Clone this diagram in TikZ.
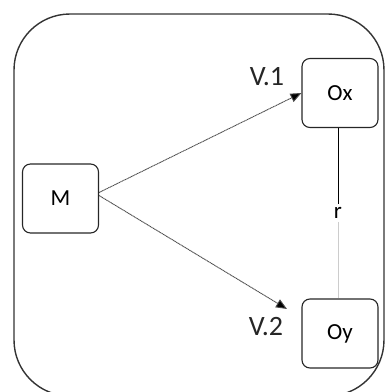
\documentclass[tikz,border=0pt]{standalone}
\usepackage{fontspec}
\setmainfont{Carlito}
\usetikzlibrary{arrows.meta}
\begin{document}
\begin{tikzpicture}[x=1pt,y=-1pt,
  box/.style={draw=black!85, line width=1.1pt, rounded corners=8pt, minimum width=76pt, minimum height=69pt, inner sep=0pt, font=\fontsize{23}{25}\selectfont},
  vlabel/.style={font=\fontsize{28}{30}\selectfont, text=black!85, inner sep=0pt},
  flow/.style={draw=black!70, line width=0.9pt, dash pattern=on 1.2pt off 0.5pt, -{Triangle[length=11pt,width=9pt,fill=black]}}
]
\useasboundingbox (0,0) rectangle (385,392);
\begin{scope}
\clip (0,0) rectangle (385,392);
\draw[black!80, line width=1.4pt, rounded corners=56pt] (14,14) rectangle (384,396);
\end{scope}
\node[box] (M) at (60.5,198.5) {M};
\node[box] (Ox) at (340,93) {Ox};
\node[box] (Oy) at (340,333.5) {Oy};
\node[vlabel] (v1) at (267,77) {V.1};
\node[vlabel] (v2) at (266,327) {V.2};
\node[inner sep=3pt, font=\fontsize{23}{25}\selectfont] (r) at (338,213) {r};
\coordinate (e2) at (287,309);
\draw[flow] (M.east) ++(0,-6) coordinate (s1) -- (Ox.west);
\draw[flow] (M.east) ++(0,-3) coordinate (s2) -- (e2);
\draw[black, line width=0.9pt] (Ox.south -| r) -- (r.north);
\draw[black!20, line width=0.8pt] (r.south) -- (Oy.north -| r);
\end{tikzpicture}
\end{document}
